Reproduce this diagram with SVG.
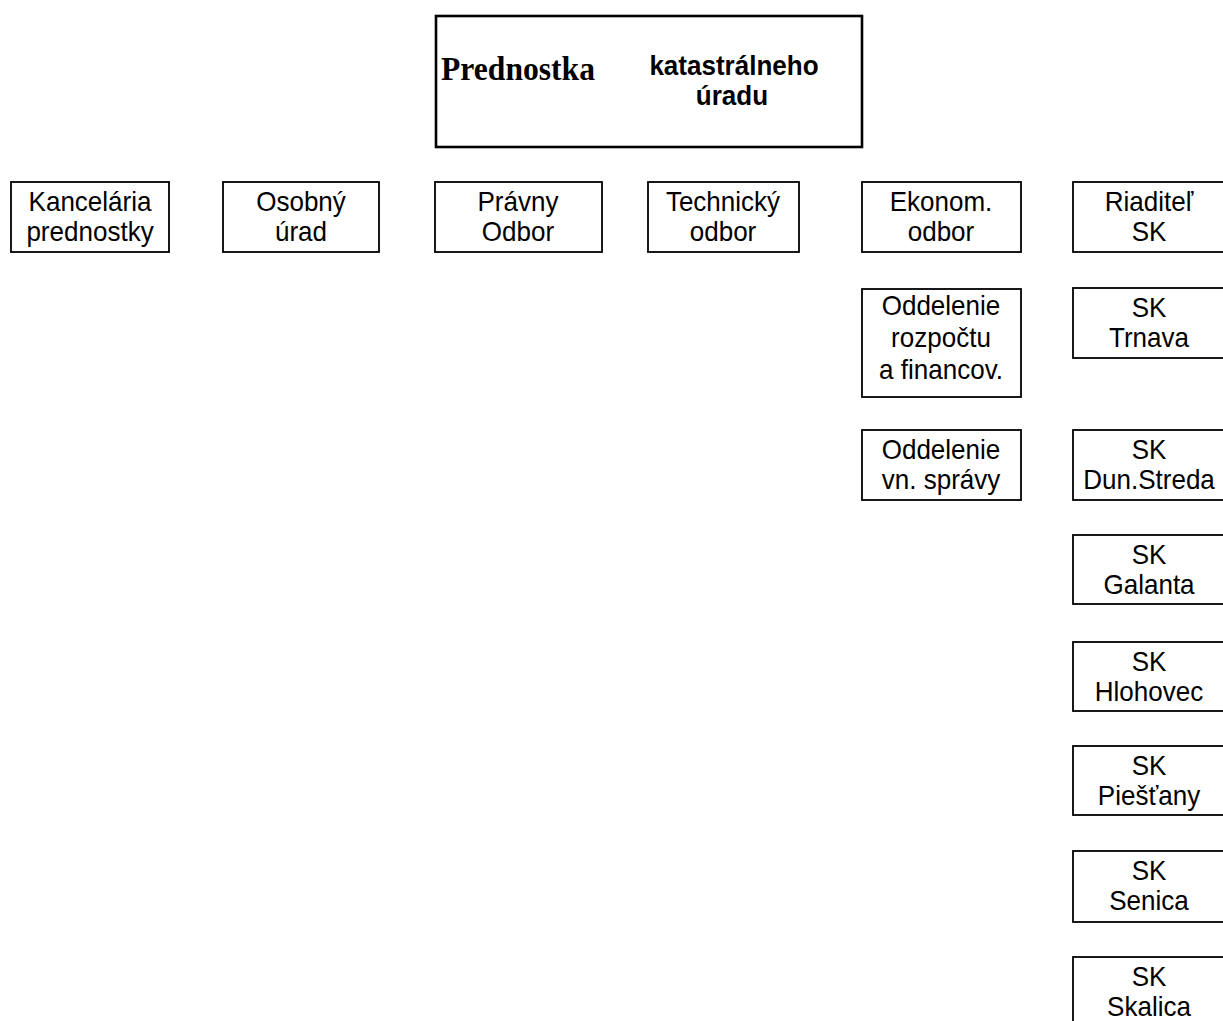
<svg xmlns="http://www.w3.org/2000/svg" width="1223" height="1021" viewBox="0 0 1223 1021">
<style>
  .box { fill: #ffffff; stroke: #000000; stroke-width: 1.8; }
  .main { fill: #ffffff; stroke: #000000; stroke-width: 2.6; }
  text { transform-box: fill-box; transform-origin: center; transform: scaleX(0.93); }
  .t { font-family: "Liberation Sans", Arial, sans-serif; font-size: 28px; fill: #000000; text-anchor: middle; }
  .tb { font-family: "Liberation Sans", Arial, sans-serif; font-size: 28px; font-weight: bold; fill: #000000; text-anchor: middle; }
  .ts { font-family: "Liberation Serif", "Times New Roman", serif; font-size: 34px; font-weight: bold; fill: #000000; text-anchor: middle; }
</style>
<rect width="1223" height="1021" fill="#ffffff"/>
<g id="connectors"></g>

<g id="prednostka">
  <rect class="main" x="436" y="16" width="426" height="131"/>
  <text class="ts" x="518" y="80">Prednostka</text>
  <text class="tb" x="734" y="75">katastrálneho</text>
  <text class="tb" x="732" y="105">úradu</text>
</g>

<g id="kancelaria">
  <rect class="box" x="11" y="182" width="158" height="70"/>
  <text class="t" x="90" y="211">Kancelária</text>
  <text class="t" x="90" y="241">prednostky</text>
</g>
<g id="osobny">
  <rect class="box" x="223" y="182" width="156" height="70"/>
  <text class="t" x="301" y="211">Osobný</text>
  <text class="t" x="301" y="241">úrad</text>
</g>
<g id="pravny">
  <rect class="box" x="435" y="182" width="167" height="70"/>
  <text class="t" x="518" y="211">Právny</text>
  <text class="t" x="518" y="241">Odbor</text>
</g>
<g id="technicky">
  <rect class="box" x="648" y="182" width="151" height="70"/>
  <text class="t" x="723" y="211">Technický</text>
  <text class="t" x="723" y="241">odbor</text>
</g>
<g id="ekonom">
  <rect class="box" x="862" y="182" width="159" height="70"/>
  <text class="t" x="941" y="211">Ekonom.</text>
  <text class="t" x="941" y="241">odbor</text>
</g>
<g id="riaditel">
  <rect class="box" x="1073" y="182" width="154" height="70"/>
  <text class="t" x="1149" y="211">Riaditeľ</text>
  <text class="t" x="1149" y="241">SK</text>
</g>

<g id="odd-rozpoctu">
  <rect class="box" x="862" y="289" width="159" height="108"/>
  <text class="t" x="941" y="315">Oddelenie</text>
  <text class="t" x="941" y="347">rozpočtu</text>
  <text class="t" x="941" y="379">a financov.</text>
</g>
<g id="sk-trnava">
  <rect class="box" x="1073" y="288" width="154" height="70"/>
  <text class="t" x="1149" y="317">SK</text>
  <text class="t" x="1149" y="347">Trnava</text>
</g>

<g id="odd-vn-spravy">
  <rect class="box" x="862" y="430" width="159" height="70"/>
  <text class="t" x="941" y="459">Oddelenie</text>
  <text class="t" x="941" y="489">vn. správy</text>
</g>
<g id="sk-dunstreda">
  <rect class="box" x="1073" y="430" width="154" height="70"/>
  <text class="t" x="1149" y="459">SK</text>
  <text class="t" x="1149" y="489">Dun.Streda</text>
</g>
<g id="sk-galanta">
  <rect class="box" x="1073" y="535" width="154" height="69"/>
  <text class="t" x="1149" y="564">SK</text>
  <text class="t" x="1149" y="594">Galanta</text>
</g>
<g id="sk-hlohovec">
  <rect class="box" x="1073" y="642" width="154" height="69"/>
  <text class="t" x="1149" y="671">SK</text>
  <text class="t" x="1149" y="701">Hlohovec</text>
</g>
<g id="sk-piestany">
  <rect class="box" x="1073" y="746" width="154" height="69"/>
  <text class="t" x="1149" y="775">SK</text>
  <text class="t" x="1149" y="805">Piešťany</text>
</g>
<g id="sk-senica">
  <rect class="box" x="1073" y="851" width="154" height="71"/>
  <text class="t" x="1149" y="880">SK</text>
  <text class="t" x="1149" y="910">Senica</text>
</g>
<g id="sk-skalica">
  <rect class="box" x="1073" y="957" width="154" height="70"/>
  <text class="t" x="1149" y="986">SK</text>
  <text class="t" x="1149" y="1016">Skalica</text>
</g>
</svg>
